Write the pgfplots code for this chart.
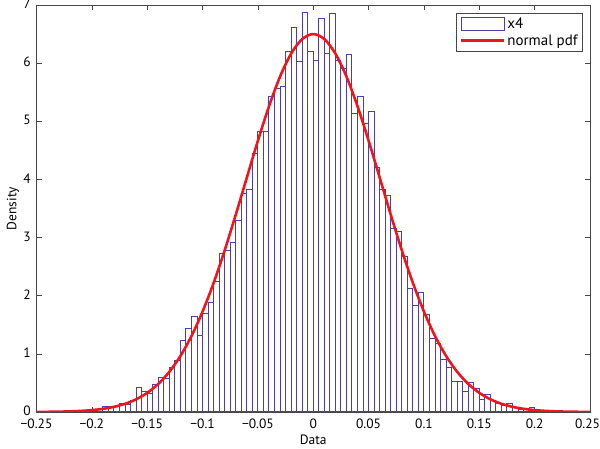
\documentclass[border=0pt]{standalone}
\usepackage{fontspec}
\setmainfont{PT Sans}
\usepackage{pgfplots}
\pgfplotsset{compat=1.18}
\definecolor{barblue}{RGB}{72,62,172}
\definecolor{axgray}{RGB}{70,70,70}
\definecolor{pdfred}{RGB}{238,22,28}
\begin{document}
\fontsize{13.5}{16}\selectfont
\begin{tikzpicture}
\path[use as bounding box] (-36.5pt,-37pt) rectangle (563.5pt,412pt);
\begin{axis}[
  at={(0,0)}, anchor=south west,
  width=553.5pt, height=407pt, scale only axis,
  xmin=-0.25, xmax=0.25, ymin=0, ymax=7,
  xtick={-0.25,-0.2,-0.15,-0.1,-0.05,0,0.05,0.1,0.15,0.2,0.25},
  xticklabels={−0.25,−0.2,−0.15,−0.1,−0.05,0,0.05,0.1,0.15,0.2,\hspace*{-5pt}0.25},
  ytick={0,1,2,3,4,5,6,7},
  yticklabels={0,1,2,3,4,5,6,7},
  tick align=inside, major tick length=5pt,
  axis line style={axgray, line width=0.7pt},
  tick style={axgray, line width=0.6pt},
  /pgf/number format/assume math mode=true,
  ticklabel style={font=\fontsize{13.5}{16}\selectfont},
  xticklabel style={yshift=-2pt},
  yticklabel style={xshift=-1pt, yshift=1pt},
  xlabel={Data}, ylabel={Density},
  label style={font=\fontsize{13.5}{16}\selectfont},
  xlabel style={at={(axis description cs:0.5,-0.0688)}, anchor=center},
  ylabel style={at={(axis description cs:-0.0425,0.5)}, anchor=center},
  legend style={at={(1,1)}, anchor=north east, xshift=-7pt, yshift=-8pt,
    draw=axgray, line width=0.6pt, font=\fontsize{15}{17}\selectfont,
    inner xsep=3pt, inner ysep=2.5pt, row sep=0pt},
  legend cell align=left,
]
\addplot[ybar interval, draw=barblue, fill=white, line width=1pt,
  legend image code/.code={\draw[draw=barblue, fill=white, line width=1pt] (0pt,-6.5pt) rectangle (43pt,6.5pt);}]
coordinates {
(-0.235,0.01) (-0.230,0.01) (-0.225,0.00) (-0.220,0.01) (-0.215,0.03)
(-0.210,0.02) (-0.205,0.01) (-0.200,0.02) (-0.195,0.05) (-0.190,0.10)
(-0.185,0.10) (-0.180,0.09) (-0.175,0.15) (-0.170,0.13) (-0.165,0.19)
(-0.160,0.42) (-0.155,0.35) (-0.150,0.31) (-0.145,0.48) (-0.140,0.60)
(-0.135,0.57) (-0.130,0.76) (-0.125,0.88) (-0.120,1.23) (-0.115,1.43)
(-0.110,1.65) (-0.105,1.32) (-0.100,1.70) (-0.095,1.89) (-0.090,2.24)
(-0.085,2.72) (-0.080,2.77) (-0.075,2.92) (-0.070,3.29) (-0.065,3.76)
(-0.060,3.83) (-0.055,4.45) (-0.050,4.82) (-0.045,4.83) (-0.040,5.43)
(-0.035,5.57) (-0.030,5.60) (-0.025,6.20) (-0.020,6.62) (-0.015,6.03)
(-0.010,6.87) (-0.005,6.20) (0.000,6.05) (0.005,6.76) (0.010,6.17)
(0.015,6.86) (0.020,6.04) (0.025,5.91) (0.030,6.15) (0.035,5.14)
(0.040,5.42) (0.045,4.97) (0.050,5.17) (0.055,4.20) (0.060,3.82)
(0.065,3.72) (0.070,3.16) (0.075,3.10) (0.080,2.67) (0.085,2.12)
(0.090,1.84) (0.095,2.05) (0.100,1.67) (0.105,1.27) (0.110,1.18)
(0.115,0.91) (0.120,0.76) (0.125,0.53) (0.130,0.53) (0.135,0.36)
(0.140,0.50) (0.145,0.40) (0.150,0.22) (0.155,0.30) (0.160,0.20)
(0.165,0.15) (0.170,0.11) (0.175,0.15) (0.180,0.07) (0.185,0.05)
(0.190,0.04) (0.195,0.07) (0.200,0.02) (0.205,0.01) (0.210,0.01)
(0.215,0.00) (0.220,0.00) (0.225,0.01) (0.230,0.01) (0.235,0.00)
(0.240,0.00)
};
\addlegendentry{x4}
\addplot[pdfred, line width=2.6pt, smooth,
  legend image code/.code={\draw[pdfred, line width=2.6pt] (0pt,0pt) -- (43pt,0pt);}]
coordinates {
(-0.25,0.0016) (-0.24,0.0031) (-0.23,0.0058) (-0.22,0.0106) (-0.21,0.0188)
(-0.20,0.0323) (-0.19,0.0542) (-0.18,0.0885) (-0.17,0.141) (-0.16,0.218)
(-0.15,0.329) (-0.14,0.483) (-0.13,0.691) (-0.12,0.963) (-0.11,1.306)
(-0.10,1.726) (-0.09,2.220) (-0.08,2.781) (-0.07,3.394) (-0.06,4.032)
(-0.05,4.666) (-0.04,5.257) (-0.03,5.769) (-0.02,6.164) (-0.01,6.414)
(0.00,6.500)
(0.01,6.414) (0.02,6.164) (0.03,5.769) (0.04,5.257) (0.05,4.666)
(0.06,4.032) (0.07,3.394) (0.08,2.781) (0.09,2.220) (0.10,1.726)
(0.11,1.306) (0.12,0.963) (0.13,0.691) (0.14,0.483) (0.15,0.329)
(0.16,0.218) (0.17,0.141) (0.18,0.0885) (0.19,0.0542) (0.20,0.0323)
(0.21,0.0188) (0.22,0.0106) (0.23,0.0058) (0.24,0.0031) (0.25,0.0016)
};
\addlegendentry{normal pdf}
\end{axis}
\end{tikzpicture}
\end{document}
